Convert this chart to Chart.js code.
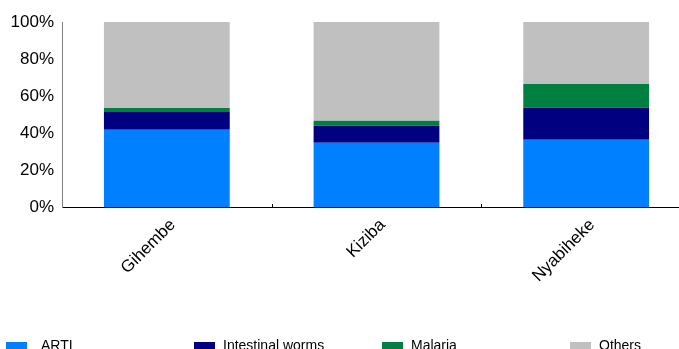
<!DOCTYPE html>
<html>
<head>
<meta charset="utf-8">
<script src="https://cdn.jsdelivr.net/npm/chart.js@4/dist/chart.umd.min.js"></script>
<style>
  html, body { margin: 0; padding: 0; overflow: hidden; background: #fff; width: 679px; height: 349px; }
  #wrap { position: absolute; left: 0; top: 0; width: 700px; height: 360px; }
</style>
</head>
<body>
<div id="wrap"><canvas id="c"></canvas></div>
<script>
// Share of reported illness by camp (percent)
const camps = ['Gihembe', 'Kiziba', 'Nyabiheke'];
const arti = [41.8, 34.7, 36.3];
const intestinalWorms = [9.6, 9.2, 17.3];
const malaria = [2.1, 2.7, 12.9];
const others = [46.5, 53.4, 33.5];
const yTicks = [0, 20, 40, 60, 80, 100];

const seriesNames = ['ARTI', 'Intestinal worms', 'Malaria', 'Others'];
const seriesColors = ['#0080FF', '#000080', '#008040', '#C0C0C0'];
const seriesValues = [arti, intestinalWorms, malaria, others];

const axisFont = { family: '"Liberation Sans", Arial, sans-serif', size: 17 };

// Short inward tick marks between categories on the x axis
const innerTicks = {
  id: 'innerTicks',
  afterDatasetsDraw(chart) {
    const xs = chart.scales.x;
    const ctx = chart.ctx;
    ctx.save();
    ctx.strokeStyle = '#000';
    ctx.lineWidth = 1;
    for (let i = 1; i < camps.length; i++) {
      const x = Math.round((xs.getPixelForTick(i - 1) + xs.getPixelForTick(i)) / 2) + 0.5;
      ctx.beginPath();
      ctx.moveTo(x, xs.top);
      ctx.lineTo(x, xs.top - 3);
      ctx.stroke();
    }
    ctx.restore();
  }
};

// Legend row along the bottom edge, one evenly spaced slot per series
const bottomLegend = {
  id: 'bottomLegend',
  afterDraw(chart) {
    const ctx = chart.ctx;
    const slot = 188;
    ctx.save();
    ctx.font = '14px "Liberation Sans", Arial, sans-serif';
    ctx.textBaseline = 'alphabetic';
    ctx.textAlign = 'left';
    chart.data.datasets.forEach((ds, i) => {
      const x0 = 6 + i * slot;
      ctx.fillStyle = ds.backgroundColor;
      ctx.fillRect(x0, 342, 21, 8);
      ctx.fillStyle = '#000';
      ctx.fillText(ds.label, x0 + (i === 0 ? 35 : 29), 349.5);
    });
    ctx.restore();
  }
};

new Chart(document.getElementById('c'), {
  type: 'bar',
  data: {
    labels: camps,
    datasets: seriesNames.map((name, i) => ({
      label: name,
      data: seriesValues[i],
      backgroundColor: seriesColors[i],
      borderWidth: 0,
      categoryPercentage: 1,
      barPercentage: 0.6
    }))
  },
  options: {
    responsive: true,
    maintainAspectRatio: false,
    animation: false,
    layout: { padding: { top: 22, right: 9, left: 0, bottom: 0 } },
    plugins: {
      legend: { display: false },
      tooltip: { enabled: false }
    },
    scales: {
      x: {
        stacked: true,
        grid: { display: false, drawTicks: false },
        border: { display: true, color: '#000', width: 1 },
        ticks: {
          color: '#000',
          font: axisFont,
          minRotation: 45,
          maxRotation: 45,
          padding: 8,
          labelOffset: 6
        },
        afterFit(scale) { scale.height = 153; }
      },
      y: {
        stacked: true,
        min: 0,
        max: 100,
        afterBuildTicks(scale) { scale.ticks = yTicks.map(v => ({ value: v })); },
        grid: { display: false, drawTicks: false },
        border: { display: true, color: '#808080', width: 1 },
        ticks: {
          color: '#000',
          padding: 8,
          font: axisFont,
          callback: v => v + '%'
        },
        afterFit(scale) { scale.width = 62; }
      }
    }
  },
  plugins: [innerTicks, bottomLegend]
});
</script>
</body>
</html>
